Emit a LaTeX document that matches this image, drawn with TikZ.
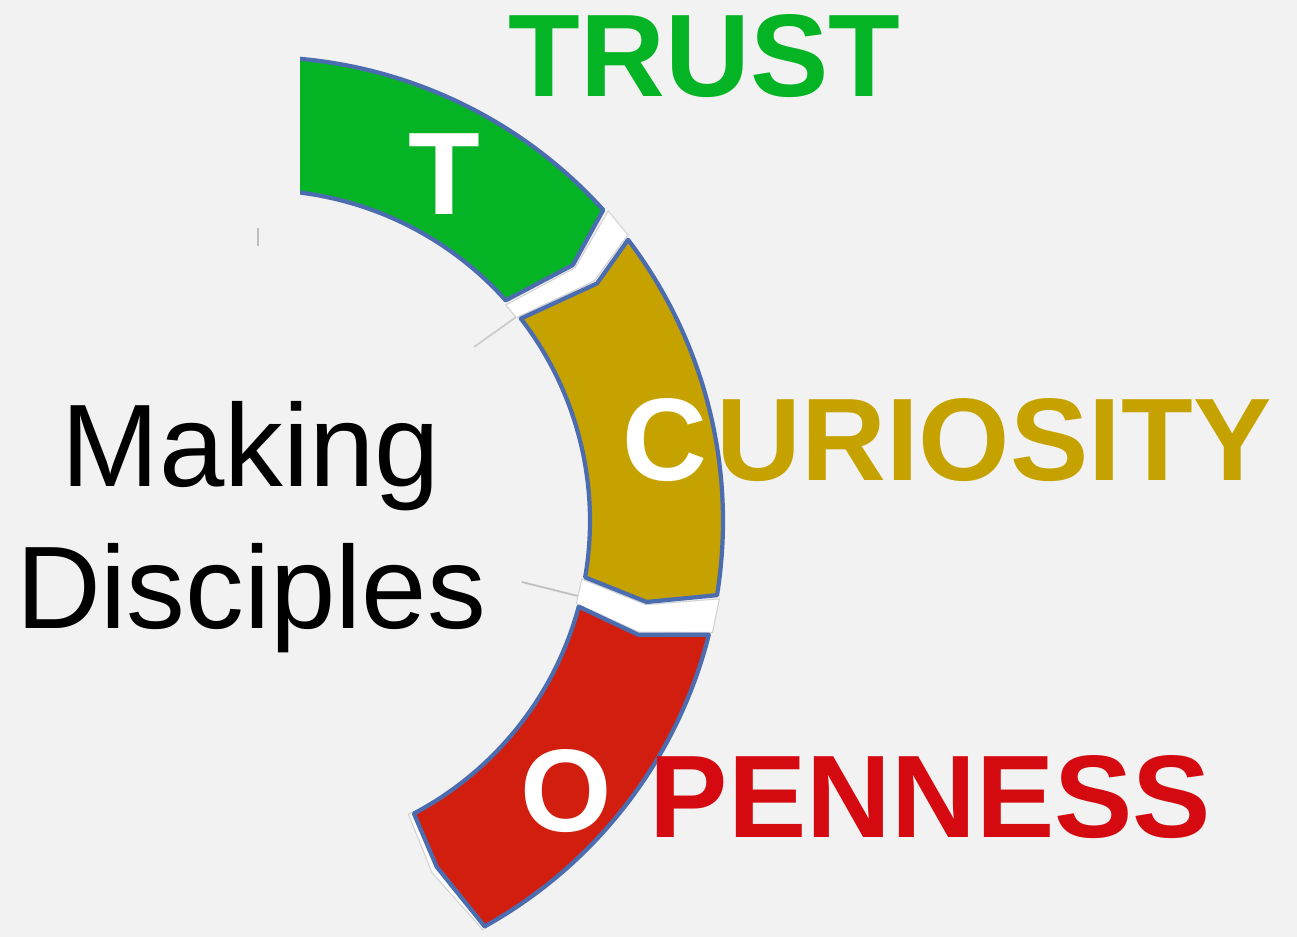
\documentclass[tikz,border=0pt]{standalone}
\usepackage{fontspec}
\setmainfont{Liberation Sans}
\definecolor{bg}{HTML}{F2F2F2}
\definecolor{tgreen}{HTML}{05B424}
\definecolor{cgold}{HTML}{C6A200}
\definecolor{ored}{HTML}{D21E0E}
\definecolor{otext}{HTML}{D40A10}
\definecolor{rim}{HTML}{4C6CB0}

\begin{document}
\begin{tikzpicture}[x=0.01cm,y=-0.01cm,
  seg/.style={draw=rim,line width=1.2pt,line join=round},
  gap/.style={fill=white,draw=gray!35,line width=0.3pt},
  word/.style={font=\bfseries\fontsize{33.4}{40}\selectfont,inner sep=0pt,anchor=base west},
  initial/.style={word,text=white}]
\useasboundingbox (0,0) rectangle (1297,937);
\fill[bg] (0,0) rectangle (1297,937);

% faint marks
\draw[gray!50,line width=0.4pt] (258,228) -- (258,246);
\draw[gray!40,line width=0.5pt] (474,347) -- (519,315);
\draw[gray!50,line width=0.5pt] (522,582) -- (578,596);

% the ring
\begin{scope}[shift={(259,521)}]
\draw[gap] (-41.6:467) -- (-38.7:405) -- (-41.2:328) -- (-38.3:328) -- (-35.6:412) -- (-37.8:467) -- cycle;
\draw[gap] (9.6:467) -- (12.2:396) -- (10.2:328) -- (14.6:328) -- (16.3:396) -- (13.8:467) -- cycle;
\draw[gap] (63.0:329) -- (63.8:392) -- (61.3:466) -- (60.9:466) -- (62.8:389) -- (62.1:329) -- cycle;
\begin{scope}
\clip (41,-521) rectangle (1038,416);
\draw[seg,fill=tgreen] (-95:464) arc[start angle=-95,end angle=-42.1,radius=464] -- (-39.2:405) -- (-41.8:331) arc[start angle=-41.8,end angle=-95,radius=331] -- cycle;
\end{scope}
\draw[seg,fill=cgold] (-37.3:464) arc[start angle=-37.3,end angle=9.2,radius=464] -- (11.8:396) -- (9.8:331) arc[start angle=9.8,end angle=-37.7,radius=331] -- (-35.1:413) -- cycle;
\draw[seg,fill=ored] (14.2:464) arc[start angle=14.2,end angle=60.9,radius=464] -- (62.8:389) -- (62.1:331) arc[start angle=62.1,end angle=15.0,radius=331] -- (16.7:396) -- cycle;
\end{scope}

% words
\node[word,text=tgreen] (trust) at (508,97) {TRUST};
\node[word,text=cgold] (curiosity) at (716,481) {URIOSITY};
\node[word,text=otext] (openness) at (649,837) {PENNESS};
\node[initial] (tletter) at (408,215) {T};
\node[initial] (cletter) at (622,481) {C};
\node[initial] (oletter) at (520,831) {O};
\node[font=\fontsize{33.4}{40.1}\selectfont,align=center,inner sep=0pt,anchor=base] (making) at (251,628) {Making\\Disciples};
\end{tikzpicture}
\end{document}
